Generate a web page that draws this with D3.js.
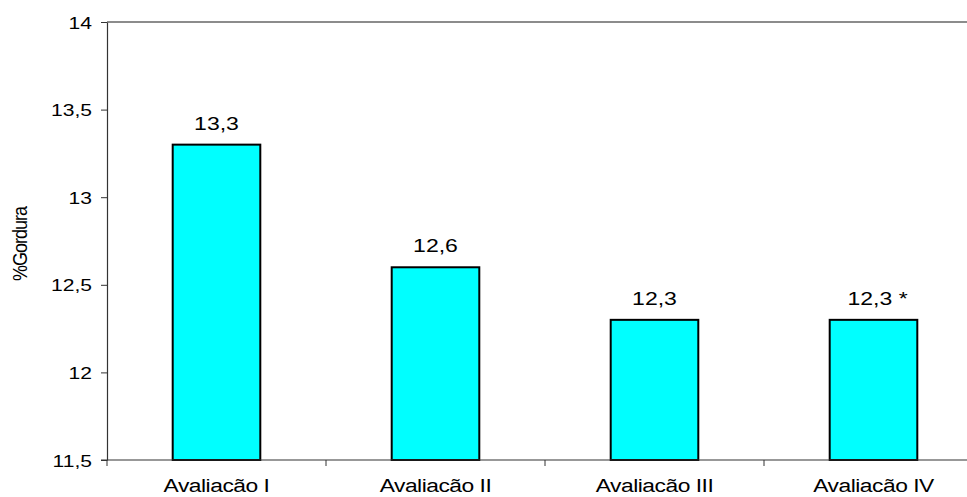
<!DOCTYPE html>
<html>
<head>
<meta charset="utf-8">
<script src="https://cdn.jsdelivr.net/npm/d3@7"></script>
<style>
  body { margin: 0; background: #fff; }
  svg { display: block; font-family: "Liberation Sans", Arial, sans-serif; }
</style>
</head>
<body>
<svg id="chart" width="967" height="497"></svg>
<script>
// Body fat percentage per evaluation
const categories = ["Avaliacão I", "Avaliacão II", "Avaliacão III", "Avaliacão IV"];
const values = [13.3, 12.6, 12.3, 12.3];
const valueLabels = ["13,3", "12,6", "12,3", "12,3 *"];
const yTicks = [11.5, 12, 12.5, 13, 13.5, 14];
const yTickLabels = ["11,5", "12", "12,5", "13", "13,5", "14"];

const svg = d3.select("#chart");
const plotLeft = 107, plotRight = 983, plotTop = 22, plotBottom = 460;
// text in this chart is drawn slightly wide
const wideX = 1.24;

const x = d3.scaleBand().domain(categories).range([plotLeft, plotRight])
  .paddingInner(0.6).paddingOuter(0.3);
const y = d3.scaleLinear().domain([11.5, 14]).range([plotBottom, plotTop]);

// plot frame top edge
svg.append("line")
  .attr("x1", plotLeft).attr("x2", 967).attr("y1", plotTop).attr("y2", plotTop)
  .attr("stroke", "#8c8c8c").attr("stroke-width", 2);

// bars
svg.append("g").selectAll("rect").data(values).join("rect")
  .attr("x", (d, i) => x(categories[i]))
  .attr("y", d => y(d))
  .attr("width", x.bandwidth())
  .attr("height", d => plotBottom - y(d))
  .attr("fill", "#00ffff")
  .attr("stroke", "#000").attr("stroke-width", 2);

// value labels
svg.append("g").selectAll("text").data(values).join("text")
  .attr("transform", (d, i) =>
    `translate(${x(categories[i]) + x.bandwidth() / 2 + (i === 3 ? 4 : 0)},${y(d) - 15}) scale(1.28,1)`)
  .attr("text-anchor", "middle")
  .attr("font-size", 18)
  .attr("fill", "#000")
  .text((d, i) => valueLabels[i]);

// y axis
const yAxis = d3.axisLeft(y).tickValues(yTicks)
  .tickFormat((d, i) => yTickLabels[i]).tickSize(6).tickSizeOuter(0);
const gy = svg.append("g").attr("transform", `translate(${plotLeft},0)`).call(yAxis);
gy.select(".domain").attr("stroke", "#333").attr("stroke-width", 1.2);
gy.selectAll(".tick line").attr("stroke", "#333");
gy.selectAll(".tick text")
  .attr("x", null).attr("dy", null)
  .attr("transform", `translate(-15,6) scale(${wideX},1)`)
  .attr("font-size", 17).attr("fill", "#000")
  .attr("font-family", "Liberation Sans, Arial, sans-serif");

// x axis with tick marks at band boundaries
svg.append("line")
  .attr("x1", plotLeft - 6).attr("x2", 967).attr("y1", plotBottom).attr("y2", plotBottom)
  .attr("stroke", "#333").attr("stroke-width", 1.2);
const boundaries = categories.map(c => x(c) - x.step() * x.paddingInner() / 2);
boundaries[0] = plotLeft;
svg.append("g").selectAll("line").data(boundaries).join("line")
  .attr("x1", d => d).attr("x2", d => d)
  .attr("y1", plotBottom).attr("y2", plotBottom + 6)
  .attr("stroke", "#333");

svg.append("g").selectAll("text").data(categories).join("text")
  .attr("transform", d => `translate(${x(d) + x.bandwidth() / 2},492) scale(1.2,1)`)
  .attr("text-anchor", "middle")
  .attr("font-size", 19)
  .attr("letter-spacing", -0.4)
  .attr("fill", "#000")
  .text(d => d);

// y axis title
svg.append("text")
  .attr("transform", "translate(27,244) rotate(-90) scale(1,1.15)")
  .attr("text-anchor", "middle")
  .attr("font-size", 18)
  .attr("letter-spacing", -1)
  .attr("fill", "#000")
  .text("%Gordura");
</script>
</body>
</html>
